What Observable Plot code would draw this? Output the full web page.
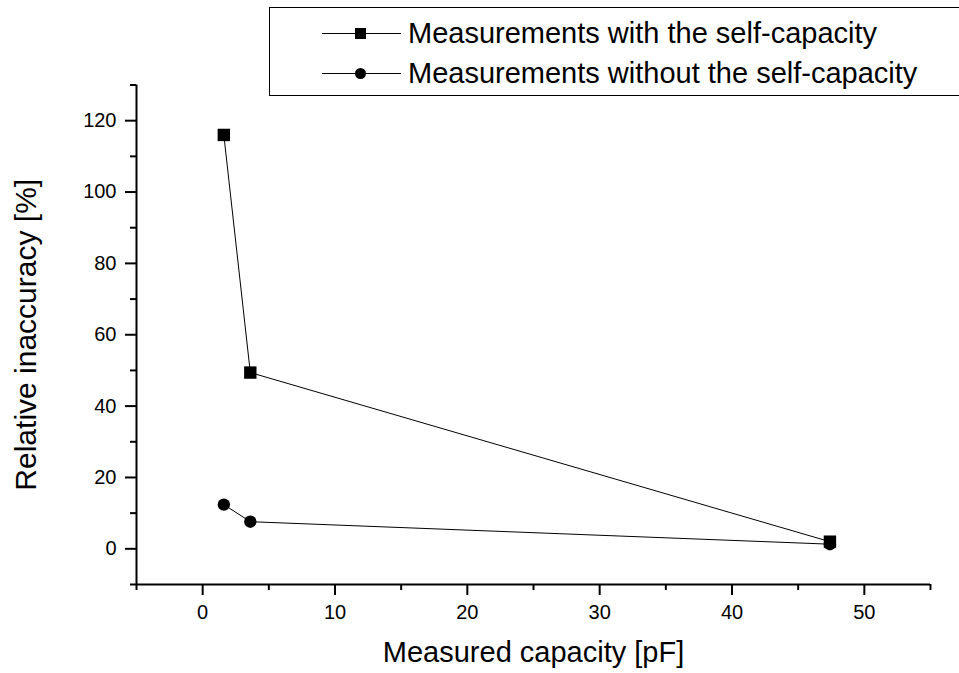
<!DOCTYPE html>
<html><head><meta charset="utf-8">
<script src="https://cdn.jsdelivr.net/npm/d3@7"></script>
<script src="https://cdn.jsdelivr.net/npm/@observablehq/plot@0.6"></script>
<style>
body{margin:0;background:#fff;font-family:"Liberation Sans",Arial,sans-serif;}
#wrap{position:relative;width:959px;height:673px;overflow:hidden;}
#legend{position:absolute;left:269px;top:7px;width:700px;height:89px;border:1.3px solid #000;background:#fff;box-sizing:border-box;}
.row{position:absolute;left:52px;height:32px;display:flex;align-items:center;font-size:29px;color:#000;white-space:nowrap;}
.row svg{margin-right:7px;}
</style></head>
<body><div id="wrap"><div id="chart"></div><div id="legend"></div></div>
<script>
const seriesNames = ["Measurements with the self-capacity", "Measurements without the self-capacity"];
const capacity = [1.6, 3.6, 47.4];
const withSelf = [116, 49.4, 2.0];
const withoutSelf = [12.4, 7.6, 1.3];
const xMajor = [0, 10, 20, 30, 40, 50];
const xMinor = [-5, 5, 15, 25, 35, 45, 55];
const yMajor = [0, 20, 40, 60, 80, 100, 120];
const yMinor = [-10, 10, 30, 50, 70, 90, 110, 130];

const data = [];
capacity.forEach((c, i) => {
  data.push({x: c, y: withSelf[i], s: seriesNames[0]});
  data.push({x: c, y: withoutSelf[i], s: seriesNames[1]});
});
const sq = data.filter(d => d.s === seriesNames[0]);
const ci = data.filter(d => d.s === seriesNames[1]);

const plot = Plot.plot({
  width: 959, height: 673,
  marginLeft: 136, marginRight: 29, marginTop: 84.5, marginBottom: 89,
  style: {fontFamily: "Liberation Sans, Arial, sans-serif", color: "#000", background: "#fff"},
  x: {domain: [-5, 55]},
  y: {domain: [-10, 130]},
  marks: [
    Plot.axisX({ticks: xMajor, tickSize: 11, strokeWidth: 2, tickPadding: 9, fontSize: 20, label: null}),
    Plot.axisX({ticks: xMinor, tickSize: 6, strokeWidth: 2, text: null, label: null}),
    Plot.axisY({ticks: yMajor, tickSize: 11, strokeWidth: 2, tickPadding: 9, fontSize: 20, label: null}),
    Plot.axisY({ticks: yMinor, tickSize: 6, strokeWidth: 2, text: null, label: null}),
    Plot.ruleX([-5], {strokeWidth: 2}),
    Plot.ruleY([-10], {strokeWidth: 2}),
    Plot.line(sq, {x: "x", y: "y", stroke: "#000", strokeWidth: 1}),
    Plot.line(ci, {x: "x", y: "y", stroke: "#000", strokeWidth: 1}),
    Plot.dot(sq, {x: "x", y: "y", symbol: "square", r: 7, fill: "#000", stroke: "none"}),
    Plot.dot(ci, {x: "x", y: "y", symbol: "circle", r: 6.2, fill: "#000", stroke: "none"}),
    Plot.text(["Measured capacity [pF]"], {frameAnchor: "bottom", dy: 77, dx: 0, fontSize: 29, textAnchor: "middle", text: d => d}),
    Plot.text(["Relative inaccuracy [%]"], {frameAnchor: "left", dx: -110, rotate: -90, fontSize: 30, textAnchor: "middle", text: d => d})
  ]
});
document.getElementById("chart").appendChild(plot);

const legend = document.getElementById("legend");
const icons = [
  '<rect x="33" y="10" width="11" height="11" fill="#000"/>',
  '<circle cx="38.5" cy="15.5" r="5.5" fill="#000"/>'
];
seriesNames.forEach((name, i) => {
  const row = document.createElement("div");
  row.className = "row";
  row.style.top = (i === 0 ? 9 : 49) + "px";
  row.innerHTML = '<svg width="79" height="31"><line x1="0" x2="79" y1="15.5" y2="15.5" stroke="#000" stroke-width="1"/>' + icons[i] + '</svg><span>' + name + '</span>';
  legend.appendChild(row);
});
</script></body></html>
